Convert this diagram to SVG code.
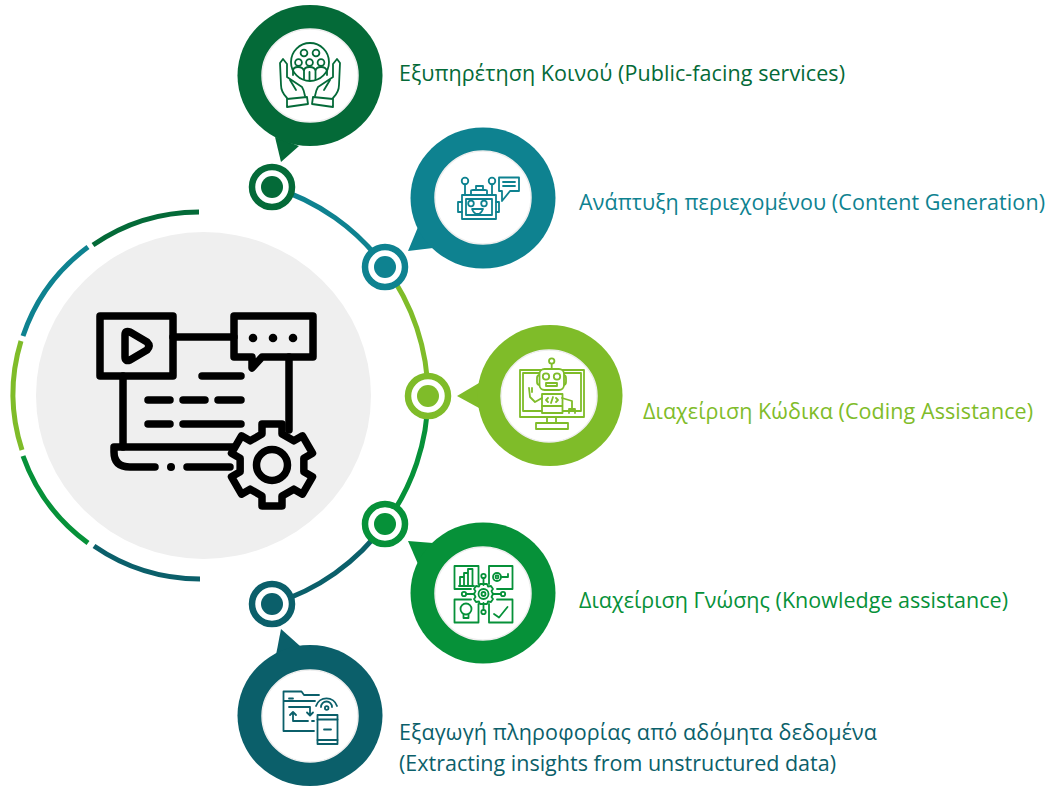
<svg xmlns="http://www.w3.org/2000/svg" width="1048" height="788" viewBox="0 0 1048 788">
<style>
text{font-family:"Open Sans","Noto Sans","DejaVu Sans",sans-serif;font-size:21.5px}
.arc{fill:none;stroke-width:5}
.ring{fill:#fff;stroke-width:6.5}
.in{fill:#fff;stroke:#eeeeee;stroke-width:1.5}
.ic{fill:none;stroke-width:1.8;stroke-linejoin:round;stroke-linecap:round}
.k{fill:none;stroke:#000;stroke-width:7.5;stroke-linecap:round;stroke-linejoin:round}
.c1{stroke:#046A38}.f1{fill:#046A38}
.c2{stroke:#0E8290}.f2{fill:#0E8290}
.c3{stroke:#7FBC29}.f3{fill:#7FBC29}
.c4{stroke:#069139}.f4{fill:#069139}
.c5{stroke:#0B5F6A}.f5{fill:#0B5F6A}
</style>
<g id="center">
<ellipse cx="203.5" cy="395.5" rx="167.5" ry="163.5" fill="#efefef"/>
<g class="k">
<path d="M123 376V447M289 357V430M173 337H234"/>
<rect x="100" y="316" width="73" height="60"/>
<path d="M234 316H313V357H262L252 368V357H234Z"/>
<path d="M125 335Q125 330 130 332L147 342Q151 346 147 350L130 360Q125 362 125 357Z"/>
<path d="M202 376H241M148 400H170M183 400H205M218 400H241M148 424H170M183 424H241"/>
<path d="M114 447H235M114 447V452Q114 467 130 467H155M187 467H230"/>
<path transform="translate(272 465)" fill="#efefef" d="M10 -41V-31L21.85 -24.16 30.5 -29.16 40.5 -11.84 31.85 -6.84V6.84L40.5 11.84 30.5 29.16 21.85 24.16 10 31V41H-10V31L-21.85 24.16 -30.5 29.16 -40.5 11.84 -31.85 6.84V-6.84L-40.5 -11.84 -30.5 -29.16 -21.85 -24.16 -10 -31V-41Z"/>
<circle cx="272" cy="465" r="15.5"/>
</g>
<g fill="#000"><circle cx="253" cy="338" r="4.3"/><circle cx="273" cy="338" r="4.3"/><circle cx="293" cy="338" r="4.3"/><circle cx="171" cy="467" r="4"/></g>
</g>
<g id="connectors">
<path class="arc c1" d="M199 212A186 183.500 0 0 0 93 245"/>
<path class="arc c2" d="M88 247A186 183.500 0 0 0 23 336"/>
<path class="arc c3" d="M21 341A186 183.500 0 0 0 22 450"/>
<path class="arc c4" d="M23 456A186 183.500 0 0 0 88 543"/>
<path class="arc c5" d="M94 546A186 183.500 0 0 0 200 579"/>
<path class="arc c2" d="M272 187A218 218 0 0 1 385 267"/>
<path class="arc c3" d="M385 267A218 218 0 0 1 428 396"/>
<path class="arc c4" d="M428 396A218 218 0 0 1 385 524"/>
<path class="arc c5" d="M385 524A218 218 0 0 1 272 604"/>
</g>
<g id="node1">
<path class="f1" d="M275 137L281 162 299 146Z"/>
<ellipse class="f1" cx="310" cy="75.500" rx="72.500" ry="70.500"/>
<ellipse class="in" cx="310" cy="75.500" rx="48" ry="46.500"/>
<circle class="ring c1" cx="272" cy="187" r="20"/><circle class="f1" cx="272" cy="187" r="11"/>
<g class="ic c1">
<circle cx="310" cy="62" r="19"/>
<circle cx="304" cy="53" r="3.400"/><circle cx="316" cy="53" r="3.400"/>
<circle cx="298.500" cy="62.500" r="3.400"/><circle cx="309.500" cy="62.500" r="3.400"/><circle cx="321" cy="62.500" r="3.400"/>
<path d="M293 75V71Q293 67 298 67T304 71V79M304 71Q304 67 309.500 67T315.500 71V79.500M315.500 71Q316 67 321 67T327 71V75M309.500 72V80"/>
<path d="M287 98Q281 92 281 85L280 63 283 59 287 64V77L302 87Q304 90 305 96"/>
<path d="M290 80L296 90"/>
<path d="M287 99L307 97 308 104 287 107Z"/>
<g transform="translate(620 0) scale(-1 1)">
<path d="M287 98Q281 92 281 85L280 63 283 59 287 64V77L302 87Q304 90 305 96"/>
<path d="M290 80L296 90"/>
<path d="M287 99L307 97 308 104 287 107Z"/>
</g>
</g>
<text class="f1" x="399" y="81" textLength="446">Εξυπηρέτηση Κοινού (Public-facing services)</text>
</g>
<g id="node2">
<path class="f2" d="M418 227L408 251 433 248Z"/>
<ellipse class="f2" cx="483" cy="198" rx="72.500" ry="70.500"/>
<ellipse class="in" cx="483" cy="197.500" rx="48" ry="46.500"/>
<circle class="ring c2" cx="385" cy="267" r="20"/><circle class="f2" cx="385" cy="267" r="11"/>
<g class="ic c2">
<rect x="462" y="195" width="34" height="24"/><rect x="466" y="199" width="26" height="16"/>
<path d="M462 202H458V212H462M496 202H499V212H496"/>
<circle cx="471" cy="203.500" r="2.800"/><circle cx="484" cy="203.500" r="2.800"/>
<path d="M472 209H483Q481 214 477.500 214T472 209Z"/>
<circle cx="465" cy="181" r="3.300"/><circle cx="492" cy="181" r="3.300"/>
<path d="M465 184V195M492 184V195M471 195V191Q471 190 473 190H485Q487 190 487 191V195M476 190V186H483V190"/>
<path d="M499 177.500H519V191H510L502 201V191H499Z"/>
<path d="M503 182H515M503 186H515"/>
</g>
<text class="f2" x="579" y="210" textLength="466">Ανάπτυξη περιεχομένου (Content Generation)</text>
</g>
<g id="node3">
<path class="f3" d="M479 383L457 396 479 408Z"/>
<ellipse class="f3" cx="550" cy="395.500" rx="72.500" ry="70.500"/>
<ellipse class="in" cx="549" cy="396" rx="48" ry="46"/>
<circle class="ring c3" cx="428" cy="396" r="20"/><circle class="f3" cx="428" cy="396" r="11"/>
<g class="ic c3">
<rect x="520" y="370" width="64" height="47"/>
<path d="M523 373V411H581V373Z"/>
<path d="M547 417V423M556 417V423"/><rect x="536" y="423" width="32" height="6"/>
<rect x="537" y="375" width="29" height="10" rx="3" fill="#fff"/>
<rect x="539.500" y="369" width="24.500" height="21" rx="5" fill="#fff"/>
<path d="M551.700 369V364M546 394H558"/><circle cx="551.700" cy="361" r="2.700"/>
<circle cx="546" cy="376.500" r="3.200"/><circle cx="557" cy="376.500" r="3.200"/><rect x="546" y="383" width="11" height="3"/>
<rect x="542" y="394" width="20.500" height="19" fill="#fff"/>
<path d="M548 398L546 400 548 402M556 398L558 400 556 402M553 397L551 403M542 406H562"/>
<path d="M542 398L535 402 530 397 529 388M532 388V392M562 398L572 401 572 410M569 413V409H575V413"/>
</g>
<text class="f3" x="643" y="419" textLength="390">Διαχείριση Κώδικα (Coding Assistance)</text>
</g>
<g id="node4">
<path class="f4" d="M408 541L433 543 418 564Z"/>
<ellipse class="f4" cx="483" cy="593" rx="72.500" ry="70.500"/>
<ellipse class="in" cx="483" cy="593.500" rx="48" ry="46.500"/>
<circle class="ring c4" cx="385" cy="524" r="20"/><circle class="f4" cx="385" cy="524" r="11"/>
<g class="ic c4">
<path d="M454.500 589V566H478.500V584M489 584V566H512.500V589H497M454.500 589H471M454.500 599.500V622.500H478.500V604M489 604V622.500H512.500V599.500H497M454.500 599.500H471"/>
<path d="M460 585V577H464V585M464 585V573H468V585M468 585V569H472.500V585M459 586H474"/>
<circle cx="497" cy="577" r="4"/><circle cx="497" cy="577" r="1.500"/><path d="M501 577H508V574"/>
<circle cx="466" cy="609" r="5.500"/><path d="M463.500 614V618H468.500V614"/>
<path d="M494 614L499 617.500 507.500 607"/>
<path d="M483.500 578V585M483.500 603V610M466 594H474M493 594H501"/>
<circle cx="483.500" cy="576" r="2.200"/><circle cx="483.500" cy="612" r="2.200"/><circle cx="464" cy="594" r="2.200"/><circle cx="503" cy="594" r="2.200"/>
<path d="M480 584H487L488 586.500 491 586 493 589 491.500 591 493 594 491.500 597 493 599 491 602 488 601.500 487 604H480L479 601.500 476 602 474 599 475.500 597 474 594 475.500 591 474 589 476 586 479 586.500Z"/>
<circle cx="483.500" cy="594" r="5"/><circle cx="483.500" cy="594" r="2"/>
</g>
<text class="f4" x="579" y="608" textLength="429">Διαχείριση Γνώσης (Knowledge assistance)</text>
</g>
<g id="node5">
<path class="f5" d="M281 629L300 646 276 655Z"/>
<ellipse class="f5" cx="310" cy="715.500" rx="72.500" ry="70.500"/>
<ellipse class="in" cx="310" cy="716" rx="48" ry="46"/>
<circle class="ring c5" cx="272" cy="604" r="20"/><circle class="f5" cx="272" cy="604" r="11"/>
<g class="ic c5">
<path d="M314 731H283.500V691.500H301.500L304 695H319M283.500 701H315M289 698.500H293"/>
<path d="M289 707H310V715M307 712.500L310 715.500 313 712.500"/>
<path d="M293 712V721H308M312 721H314M290 715L293 712 296 715"/>
<rect x="317.500" y="715" width="20" height="29"/><path d="M317.500 719.500H337.500M317.500 740H337.500M324 729.500H331" stroke-dasharray="none"/>
<path d="M316 706A11 11 0 0 1 337 706M321 707A5.500 5.500 0 0 1 332 707"/>
<circle cx="326.700" cy="708" r="1.800"/>
</g>
<text class="f5" x="399" y="740" textLength="478">Εξαγωγή πληροφορίας από αδόμητα δεδομένα</text>
<text class="f5" x="399" y="771" textLength="437">(Extracting insights from unstructured data)</text>
</g>
</svg>
